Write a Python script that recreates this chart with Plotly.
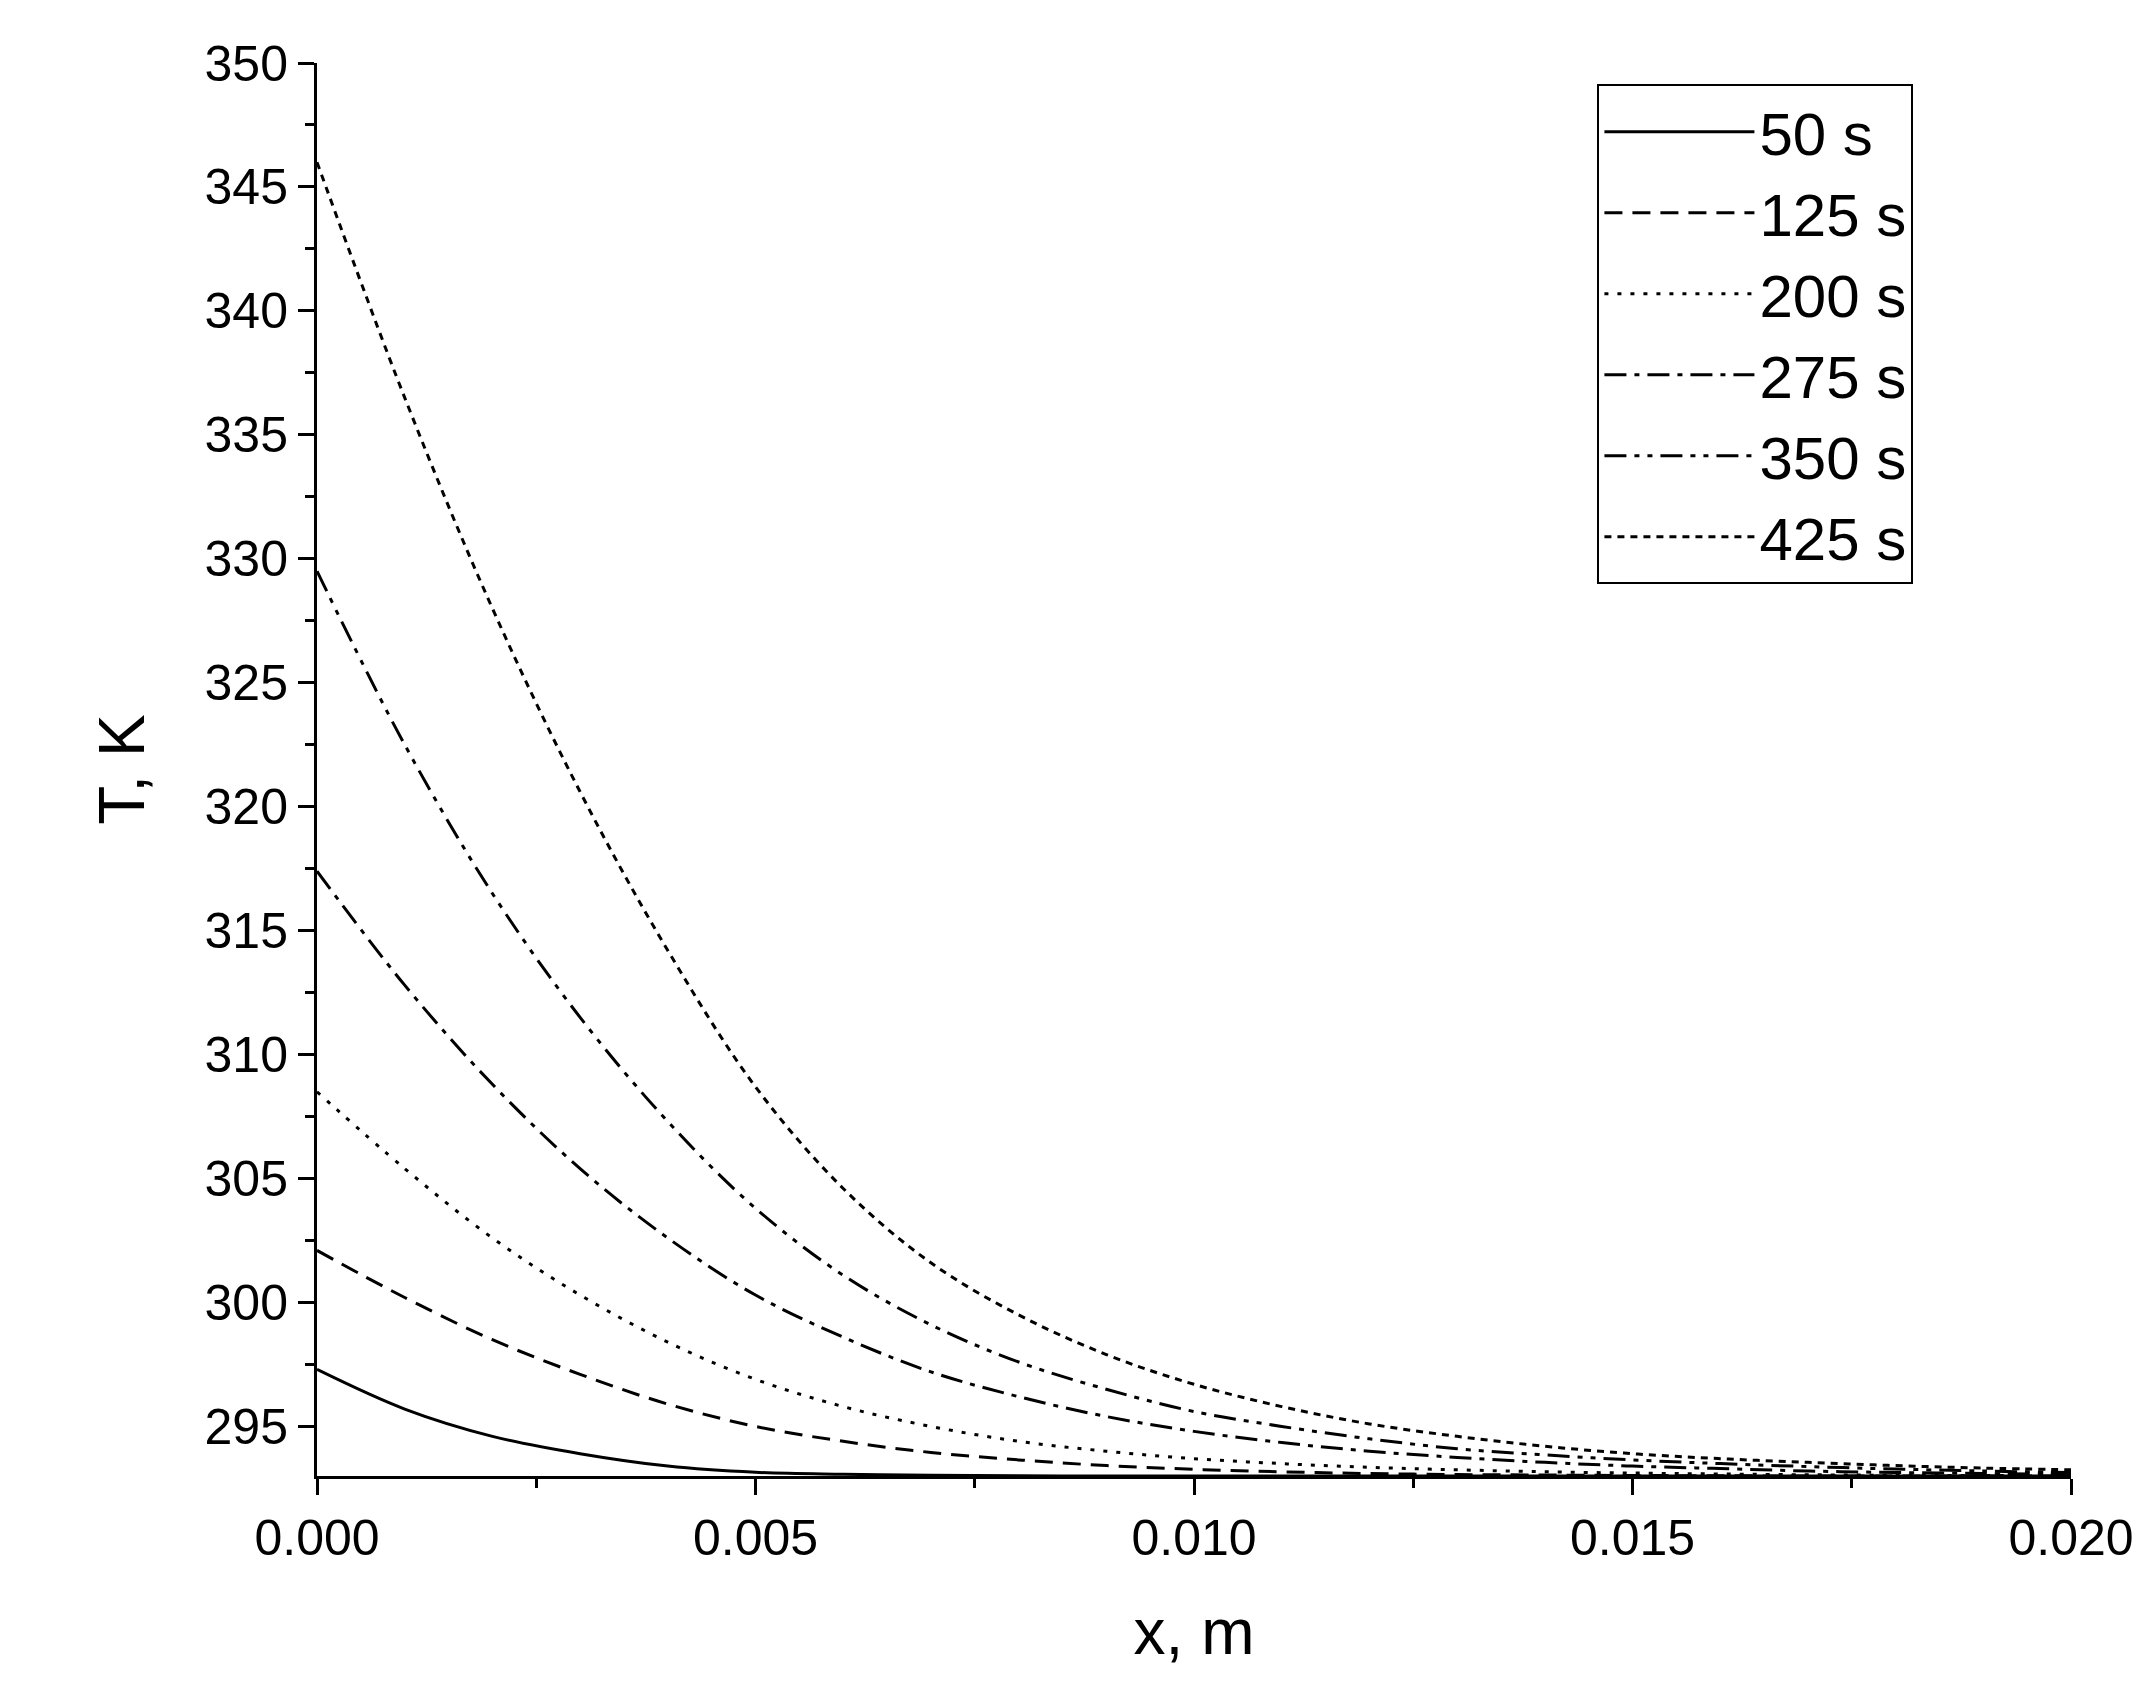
import plotly.graph_objects as go

x = [0, 0.001, 0.002, 0.003, 0.004, 0.005, 0.006, 0.007, 0.008, 0.009, 0.010,
     0.011, 0.012, 0.013, 0.014, 0.015, 0.016, 0.017, 0.018, 0.019, 0.020]

t50 = [297.3, 295.7, 294.6, 293.9, 293.4, 293.15, 293.07, 293.03, 293.01, 293.0, 293.0,
       293.0, 293.0, 293.0, 293.0, 293.0, 293.0, 293.0, 293.0, 293.0, 293.0]
t125 = [302.1, 300.2, 298.5, 297.1, 295.9, 295.0, 294.4, 293.95, 293.65, 293.42, 293.27,
        293.17, 293.1, 293.06, 293.04, 293.02, 293.01, 293.0, 293.0, 293.0, 293.0]
t200 = [308.5, 305.4, 302.6, 300.3, 298.4, 296.9, 295.8, 295.0, 294.4, 294.0, 293.7,
        293.5, 293.35, 293.25, 293.17, 293.12, 293.08, 293.05, 293.03, 293.02, 293.01]
t275 = [317.4, 312.8, 308.8, 305.4, 302.6, 300.3, 298.6, 297.2, 296.2, 295.4, 294.8,
        294.35, 294.0, 293.75, 293.55, 293.4, 293.3, 293.2, 293.14, 293.1, 293.06]
t350 = [329.5, 322.5, 316.5, 311.5, 307.3, 303.8, 301.1, 299.1, 297.6, 296.5, 295.6,
        295.0, 294.5, 294.1, 293.85, 293.65, 293.5, 293.38, 293.28, 293.2, 293.14]
t425 = [346.0, 336.5, 328.0, 320.6, 314.2, 308.7, 304.6, 301.6, 299.5, 297.9, 296.7,
        295.8, 295.1, 294.6, 294.2, 293.9, 293.7, 293.55, 293.42, 293.32, 293.25]

names = ["50 s", "125 s", "200 s", "275 s", "350 s", "425 s"]
series = [t50, t125, t200, t275, t350, t425]
dashes = ["solid", "18px,10px", "4px,9px", "22px,8px,5px,8px", "22px,8px,5px,8px,5px,8px", "7px,6px"]

fig = go.Figure()
for name, y, d in zip(names, series, dashes):
    fig.add_trace(go.Scatter(x=x, y=y, name=name, mode="lines",
                             line=dict(color="black", width=3, dash=d, shape="spline", smoothing=1.0)))

axis_common = dict(showline=True, linecolor="black", linewidth=3, ticks="outside",
                   ticklen=16, tickwidth=3, tickcolor="black", showgrid=False,
                   zeroline=False, tickfont=dict(size=50, color="black"))

fig.update_xaxes(range=[0, 0.02], dtick=0.005, tickformat=".3f",
                 minor=dict(dtick=0.0025, ticks="outside", ticklen=9, tickwidth=3, tickcolor="black"),
                 title=dict(text="x, m", font=dict(size=64, color="black"), standoff=45),
                 **axis_common)
fig.update_yaxes(range=[293, 350], tick0=295, dtick=5,
                 minor=dict(tick0=295, dtick=2.5, ticks="outside", ticklen=9, tickwidth=3, tickcolor="black"),
                 title=dict(text="T, K", font=dict(size=64, color="black"), standoff=40),
                 **axis_common)

fig.update_layout(
    width=2145, height=1701,
    margin=dict(l=309, r=82, t=55, b=233),
    plot_bgcolor="white", paper_bgcolor="white",
    font=dict(family="Liberation Sans, Arial, sans-serif", color="black"),
    legend=dict(x=0.73, y=0.985, xanchor="left", yanchor="top",
                bordercolor="black", borderwidth=2, bgcolor="white",
                font=dict(size=60), itemwidth=150, tracegroupgap=0),
)

fig.write_html("out.html")
